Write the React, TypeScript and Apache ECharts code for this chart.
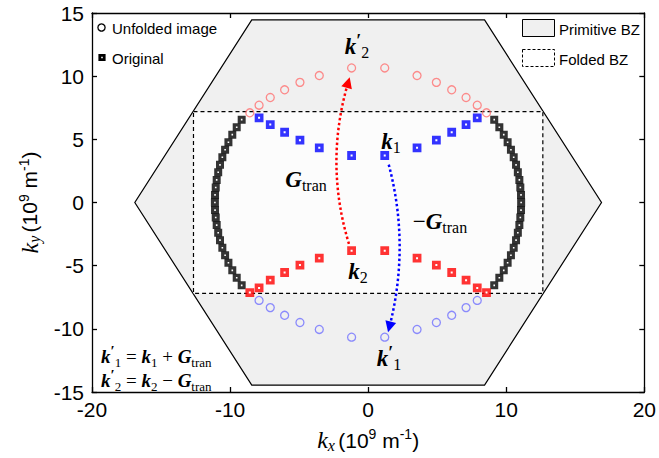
import React, { useEffect, useRef } from 'react';
import * as echarts from 'echarts';

// Axis ranges / ticks
const xMin = -20, xMax = 20, xStep = 10;
const yMin = -15, yMax = 15, yStep = 5;

// Primitive BZ (hexagon) and folded BZ (rectangle) vertices
const hexKx = [-8.43, 8.43, 16.9, 8.43, -8.43, -16.9];
const hexKy = [14.45, 14.45, 0, -14.45, -14.45, 0];
const foldKx = [-12.65, 12.65, 12.65, -12.65];
const foldKy = [7.2, 7.2, -7.2, -7.2];

// Original states (black squares), left and right arcs
const origKy = [6.56, 5.96, 5.37, 4.77, 4.17, 3.58, 2.98, 2.39, 1.79, 1.19, 0.6, 0, -0.6, -1.19, -1.79, -2.39, -2.98, -3.58, -4.17, -4.77, -5.37, -5.96, -6.56];
const origKxLeft = [-9.16, -9.52, -9.84, -10.12, -10.36, -10.56, -10.73, -10.86, -10.97, -11.04, -11.09, -11.1, -11.09, -11.04, -10.97, -10.86, -10.73, -10.56, -10.36, -10.12, -9.84, -9.52, -9.16];
const origKxRight = [9.13, 9.5, 9.82, 10.1, 10.34, 10.54, 10.71, 10.84, 10.95, 11.02, 11.07, 11.08, 11.07, 11.02, 10.95, 10.84, 10.71, 10.54, 10.34, 10.1, 9.82, 9.5, 9.13];

// Folded k2 states (red squares) and their unfolded images (pink circles)
const redKx = [-8.57, -7.9, -7.09, -6.05, -4.94, -3.54, -1.2, 1.2, 3.54, 4.94, 6.05, 7.09, 7.9, 8.57];
const redKy = [-7.13, -6.76, -6.15, -5.54, -4.95, -4.41, -3.81, -3.81, -4.41, -4.95, -5.54, -6.15, -6.76, -7.13];
const pinkKy = [7.1, 7.7, 8.31, 8.92, 9.51, 10.05, 10.65, 10.65, 10.05, 9.51, 8.92, 8.31, 7.7, 7.1];

// Folded k1 states (blue squares) and their unfolded images (light blue circles)
const blueKx = [-7.9, -7.09, -6.05, -4.94, -3.54, -1.2, 1.2, 3.54, 4.94, 6.05, 7.09, 7.9];
const blueKy = [6.7, 6.17, 5.56, 4.93, 4.33, 3.72, 3.72, 4.33, 4.93, 5.56, 6.17, 6.7];
const lightBlueKy = [-7.75, -8.32, -8.93, -9.5, -10.05, -10.66, -10.66, -10.05, -9.5, -8.93, -8.32, -7.75];

// Translation arrows (start, end)
const redArrow = [[-1.39, -3.28], [-1.45, 9.5]];
const blueArrow = [[1.49, 3.0], [1.54, -9.85]];

const zip = (xs: number[], ys: number[]) => xs.map((x, i) => [x, ys[i]]);

const SERIF = 'Liberation Serif';
const SANS = 'Liberation Sans';

function mathRich(size: number) {
  return {
    k: { fontFamily: SERIF, fontStyle: 'italic', fontWeight: 'bold', fontSize: size, lineHeight: size + 6, color: '#000' },
    p: { fontFamily: SERIF, fontWeight: 'bold', fontSize: Math.round(size * 0.8), lineHeight: size * 0.7, verticalAlign: 'top', color: '#000' },
    s: { fontFamily: SERIF, fontSize: Math.round(size * 0.7), lineHeight: size * 0.55, verticalAlign: 'bottom', color: '#000' },
    r: { fontFamily: SERIF, fontSize: size, lineHeight: size + 6, color: '#000' },
  };
}

const axisLineStyle = { color: '#000', width: 1.3 };

export default function App() {
  const ref = useRef<HTMLDivElement>(null);
  useEffect(() => {
    const chart = echarts.init(ref.current!, null, { renderer: 'svg' });
    const big = mathRich(23);
    const small = mathRich(19);
    const nameRich = {
      i: { fontFamily: SERIF, fontStyle: 'italic', fontSize: 24, lineHeight: 26, color: '#000' },
      is: { fontFamily: SERIF, fontStyle: 'italic', fontSize: 16, lineHeight: 12, verticalAlign: 'bottom', color: '#000' },
      n: { fontFamily: SANS, fontSize: 21, lineHeight: 26, color: '#000' },
      sup: { fontFamily: SANS, fontSize: 14, lineHeight: 12, verticalAlign: 'top', color: '#000' },
    };
    const baseAxis = {
      type: 'value',
      axisLine: { show: true, onZero: false, lineStyle: axisLineStyle },
      axisTick: { show: true, inside: true, length: 5, lineStyle: axisLineStyle },
      splitLine: { show: false },
    };
    const option: any = {
      animation: false,
      backgroundColor: '#fff',
      grid: { left: 92, right: 12, top: 13, bottom: 64 },
      xAxis: [
        {
          ...baseAxis, min: xMin, max: xMax, interval: xStep, position: 'bottom',
          axisLabel: { fontFamily: SANS, fontSize: 21, color: '#000', margin: 7 },
          name: '{i|k}{is|x} {n|(10}{sup|9}{n| m}{sup|-1}{n|)}',
          nameLocation: 'middle', nameGap: 35,
          nameTextStyle: { rich: nameRich },
        },
        { ...baseAxis, min: xMin, max: xMax, interval: xStep, position: 'top', axisLabel: { show: false } },
      ],
      yAxis: [
        {
          ...baseAxis, min: yMin, max: yMax, interval: yStep, position: 'left',
          axisLabel: { fontFamily: SANS, fontSize: 21, color: '#000', margin: 8 },
          name: '{i|k}{is|y} {n|(10}{sup|9}{n| m}{sup|-1}{n|)}',
          nameLocation: 'middle', nameGap: 47,
          nameTextStyle: { rich: nameRich },
        },
        { ...baseAxis, min: yMin, max: yMax, interval: yStep, position: 'right', axisLabel: { show: false } },
      ],
      series: [
        {
          type: 'custom', silent: true, z: 1,
          data: [[0, 0]],
          renderItem: (_p: any, api: any) => ({
            type: 'polygon',
            shape: { points: zip(hexKx, hexKy).map((c) => api.coord(c)) },
            style: { fill: '#f0f0f0', stroke: '#000', lineWidth: 1.2 },
          }),
        },
        {
          type: 'custom', silent: true, z: 2,
          data: [[0, 0]],
          renderItem: (_p: any, api: any) => ({
            type: 'polygon',
            shape: { points: zip(foldKx, foldKy).map((c) => api.coord(c)) },
            style: { fill: '#fcfcfc', stroke: '#000', lineWidth: 1.2, lineDash: [4, 3] },
          }),
        },
        {
          name: 'Unfolded k2', type: 'scatter', z: 3, symbol: 'circle', symbolSize: 8,
          data: zip(redKx, pinkKy),
          itemStyle: { color: 'rgba(0,0,0,0)', borderColor: '#ff7070', borderWidth: 1.3 },
        },
        {
          name: 'Unfolded k1', type: 'scatter', z: 3, symbol: 'circle', symbolSize: 8,
          data: zip(blueKx, lightBlueKy),
          itemStyle: { color: 'rgba(0,0,0,0)', borderColor: '#7070ff', borderWidth: 1.3 },
        },
        {
          name: 'Original', type: 'scatter', z: 4, symbol: 'rect', symbolSize: 4.8,
          data: [...zip(origKxLeft, origKy), ...zip(origKxRight, origKy)],
          itemStyle: { color: '#fff', borderColor: '#000', borderWidth: 3.2 },
        },
        {
          name: 'k2', type: 'scatter', z: 4, symbol: 'rect', symbolSize: 5.4,
          data: zip(redKx, redKy),
          itemStyle: { color: '#fff', borderColor: '#ff0000', borderWidth: 3.4 },
        },
        {
          name: 'k1', type: 'scatter', z: 4, symbol: 'rect', symbolSize: 5.4,
          data: zip(blueKx, blueKy),
          itemStyle: { color: '#fff', borderColor: '#0000ff', borderWidth: 3.4 },
        },
        {
          type: 'lines', coordinateSystem: 'cartesian2d', z: 5, silent: true,
          symbol: ['none', 'triangle'], symbolSize: [8, 11],
          lineStyle: { color: '#ff0000', width: 2.5, type: 'dotted', curveness: 0.15, opacity: 1 },
          data: [{ coords: redArrow }],
        },
        {
          type: 'lines', coordinateSystem: 'cartesian2d', z: 5, silent: true,
          symbol: ['none', 'triangle'], symbolSize: [8, 11],
          lineStyle: { color: '#0000ff', width: 2.5, type: 'dotted', curveness: 0.13, opacity: 1 },
          data: [{ coords: blueArrow }],
        },
      ],
      graphic: [
        // left legend
        { type: 'circle', shape: { cx: 101.5, cy: 27.5, r: 3.6 }, style: { fill: '#fff', stroke: '#000', lineWidth: 1.3 }, z: 10 },
        { type: 'text', x: 112, y: 28, style: { text: 'Unfolded image', fontFamily: SANS, fontSize: 15, fill: '#000', verticalAlign: 'middle' }, z: 10 },
        { type: 'rect', shape: { x: 99.8, y: 55.3, width: 4.4, height: 4.4 }, style: { fill: '#fff', stroke: '#000', lineWidth: 2.8 }, z: 10 },
        { type: 'text', x: 112, y: 58, style: { text: 'Original', fontFamily: SANS, fontSize: 15, fill: '#000', verticalAlign: 'middle' }, z: 10 },
        // right legend
        { type: 'rect', shape: { x: 522.5, y: 19.5, width: 32, height: 17 }, style: { fill: '#f0f0f0', stroke: '#000', lineWidth: 1 }, z: 10 },
        { type: 'text', x: 559, y: 29, style: { text: 'Primitive BZ', fontFamily: SANS, fontSize: 15, fill: '#000', verticalAlign: 'middle' }, z: 10 },
        { type: 'rect', shape: { x: 522.5, y: 49.5, width: 32, height: 17 }, style: { fill: '#fff', stroke: '#000', lineWidth: 1, lineDash: [3, 2] }, z: 10 },
        { type: 'text', x: 559, y: 59, style: { text: 'Folded BZ', fontFamily: SANS, fontSize: 15, fill: '#000', verticalAlign: 'middle' }, z: 10 },
        // math annotations
        { type: 'text', x: 357, y: 46, style: { text: '{k|k}{p|′}{s|2}', rich: big, align: 'center', verticalAlign: 'middle' }, z: 10 },
        { type: 'text', x: 391, y: 141, style: { text: '{k|k}{s|1}', rich: big, align: 'center', verticalAlign: 'middle' }, z: 10 },
        { type: 'text', x: 306, y: 179, style: { text: '{k|G}{s|tran}', rich: big, align: 'center', verticalAlign: 'middle' }, z: 10 },
        { type: 'text', x: 440, y: 221, style: { text: '{r|−}{k|G}{s|tran}', rich: big, align: 'center', verticalAlign: 'middle' }, z: 10 },
        { type: 'text', x: 358, y: 271, style: { text: '{k|k}{s|2}', rich: big, align: 'center', verticalAlign: 'middle' }, z: 10 },
        { type: 'text', x: 389, y: 358, style: { text: '{k|k}{p|′}{s|1}', rich: big, align: 'center', verticalAlign: 'middle' }, z: 10 },
        { type: 'text', x: 101, y: 356, style: { text: '{k|k}{p|′}{s|1}{r| = }{k|k}{s|1}{r| + }{k|G}{s|tran}', rich: small, align: 'left', verticalAlign: 'middle' }, z: 10 },
        { type: 'text', x: 101, y: 380, style: { text: '{k|k}{p|′}{s|2}{r| = }{k|k}{s|2}{r| − }{k|G}{s|tran}', rich: small, align: 'left', verticalAlign: 'middle' }, z: 10 },
      ],
    };
    chart.setOption(option);
    return () => chart.dispose();
  }, []);
  return <div ref={ref} style={{ position: 'absolute', left: 0, top: 0, width: 659, height: 458, background: '#fff' }} />;
}
